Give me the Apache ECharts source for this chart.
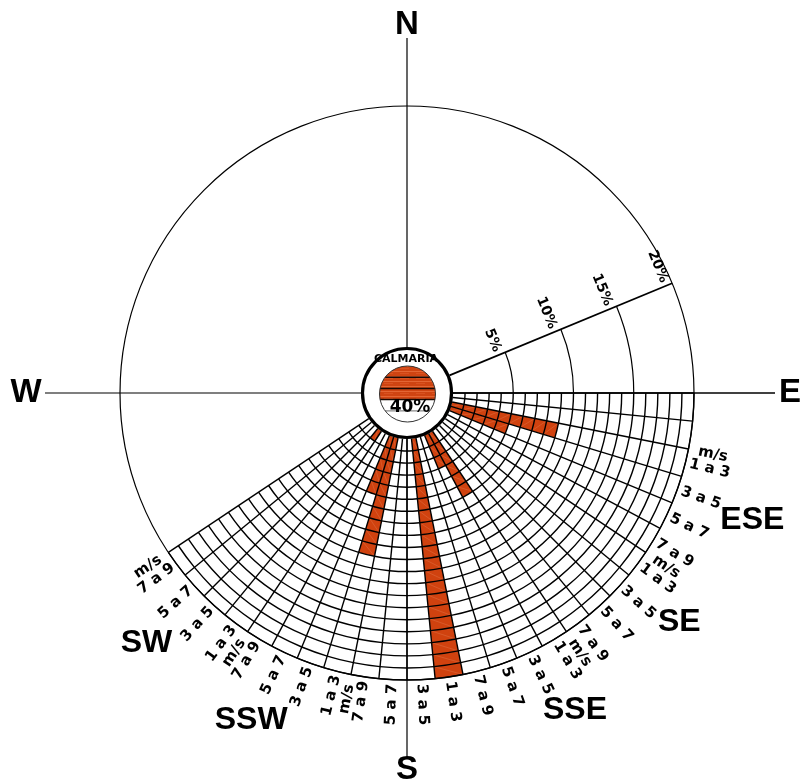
<!DOCTYPE html>
<html>
<head>
<meta charset="utf-8">
<title>Rosa dos ventos</title>
<script src="https://cdn.jsdelivr.net/npm/echarts@6/dist/echarts.min.js"></script>
<style>
  html, body { margin: 0; padding: 0; background: #fff; }
  #chart { width: 801px; height: 782px; }
</style>
</head>
<body>
<div id="chart"></div>
<script>
// ---- data -------------------------------------------------------------
// Directions on the lower half of the rose, with their compass bearings
const directions = ['ESE', 'SE', 'SSE', 'S', 'SSW', 'SW'];
const directionAngles = [112.5, 135, 157.5, 180, 202.5, 225];
// Wind speed classes (m/s)
const speedClasses = ['1 a 3', '3 a 5', '5 a 7', '7 a 9'];
// Frequency (%) of each speed class, one value per direction above
const freq1a3 = [9, 0, 6, 20, 10, 1];
const freq3a5 = [5, 0, 3, 0, 5, 0];
const freq5a7 = [0, 0, 0, 0, 0, 0];
const freq7a9 = [0, 0, 0, 0, 0, 0];
// Calm share (%)
const calmPct = 40;
// Frequency scale ticks (%)
const percentTicks = [5, 10, 15, 20];
// Cardinal points
const cardinals = ['N', 'E', 'S', 'W'];
const cardinalAngles = [0, 90, 180, 270];

// ---- layout -----------------------------------------------------------
const SLOT = 5.625;            // angular width of one speed class
const HALF_SECTOR = 11.25;     // half width of a direction sector
const GRID_FROM = 90;          // gridded sector, compass degrees
const GRID_TO = 236.25;
const MAX_PCT = 20;
const SCALE_ANGLE = 67.5;      // bearing of the percentage scale line
const SPEED_LABEL_GAP = 25;    // px beyond the outer ring
const cardinalLineEnd = { N: 355, E: 368, S: 364, W: 362 };
const cardinalLabelR = { N: 368, E: 383, S: 377, W: 381 };
const dirLabelPos = {          // [radius px, bearing]
  ESE: [368, 110.2], SE: [356, 130.1], SSE: [359, 152.1], SSW: [362, 205.5], SW: [361, 226.2]
};
const BAR_RED = '#d0420f';
const GRID_W = 1.4;
const BIG_FONT = 'bold 32px "Liberation Sans", Arial, sans-serif';
const SMALL_FONT = 'bold 15px "DejaVu Sans", sans-serif';

const freqByClass = [freq1a3, freq3a5, freq5a7, freq7a9];

// one record per non-empty bar: [frequency, start bearing, end bearing]
const barData = [];
directions.forEach((d, i) => {
  speedClasses.forEach((c, j) => {
    const v = freqByClass[j][i];
    if (v > 0) {
      const a0 = directionAngles[i] - HALF_SECTOR + j * SLOT;
      barData.push([v, a0, a0 + SLOT]);
    }
  });
});

// one record per grid column
const gridData = [];
for (let a = GRID_FROM; a < GRID_TO - 1e-6; a += SLOT) gridData.push([0, a]);

function geom(params, api) {
  const cs = params.coordSys, cx = cs.cx, cy = cs.cy;
  const dist = p => Math.hypot(p[0] - cx, p[1] - cy);
  return {
    cx, cy,
    rad: v => dist(api.coord([v, 0])),
    ang: a => { const p = api.coord([MAX_PCT, a]); return Math.atan2(p[1] - cy, p[0] - cx); },
    at: (r, t) => [cx + r * Math.cos(t), cy + r * Math.sin(t)]
  };
}

function line(p, q, w, color) {
  return { type: 'line', shape: { x1: p[0], y1: p[1], x2: q[0], y2: q[1] },
           style: { stroke: color || '#000', lineWidth: w } };
}

function text(str, p, font, rot, align, valign) {
  return { type: 'text', x: p[0], y: p[1], rotation: rot || 0,
           style: { text: str, font: font, fill: '#000', align: align || 'center', verticalAlign: valign || 'middle' } };
}

// text laid along the radius: outward on the right, toward the centre on the left
function radialText(str, p, t, font) {
  const deg = t * 180 / Math.PI;
  const rot = (deg > 90.01 || deg < -90) ? Math.PI - t : -t;
  return text(str, p, font, rot);
}

function stripeCanvas() {
  const c = document.createElement('canvas');
  c.width = 16; c.height = 5;
  const x = c.getContext('2d');
  x.fillStyle = '#cf4412'; x.fillRect(0, 0, 16, 5);
  x.fillStyle = 'rgba(240,125,75,0.6)'; x.fillRect(0, 1, 16, 1);
  x.fillStyle = 'rgba(235,110,60,0.35)'; x.fillRect(0, 3, 9, 1);
  return c;
}
const discPattern = { image: stripeCanvas(), repeat: 'repeat' };

const chart = echarts.init(document.getElementById('chart'), null, { renderer: 'canvas' });

const option = {
  animation: false,
  backgroundColor: '#fff',
  polar: { center: [407, 393], radius: [46, 287] },
  angleAxis: {
    type: 'value', min: 0, max: 360, startAngle: 90, clockwise: true,
    axisLine: { show: false }, axisTick: { show: false }, axisLabel: { show: false }, splitLine: { show: false }
  },
  radiusAxis: {
    type: 'value', min: 0, max: MAX_PCT,
    axisLine: { show: false }, axisTick: { show: false }, axisLabel: { show: false }, splitLine: { show: false }
  },
  series: [
    // frequency bars
    {
      type: 'custom', coordinateSystem: 'polar', clip: false, z: 1, silent: true,
      data: barData,
      renderItem(params, api) {
        const g = geom(params, api);
        const v = api.value(0), a0 = api.value(1), a1 = api.value(2);
        const t0 = g.ang(a0), t1 = g.ang(a1);
        const children = [{
          type: 'sector',
          shape: { cx: g.cx, cy: g.cy, r0: g.rad(0), r: g.rad(v), startAngle: t0, endAngle: t1, clockwise: true },
          style: { fill: BAR_RED }
        }];
        for (let k = 0; k < v; k++) {
          children.push(line(g.at(g.rad(k), t1), g.at(g.rad(k + 1), t0), 0.7, 'rgba(255,215,190,0.22)'));
        }
        return { type: 'group', children };
      }
    },
    // speed / frequency grid
    {
      type: 'custom', coordinateSystem: 'polar', clip: false, z: 2, silent: true,
      data: gridData,
      renderItem(params, api) {
        const g = geom(params, api);
        const a0 = api.value(1), a1 = a0 + SLOT;
        const t0 = g.ang(a0), t1 = g.ang(a1);
        const R0 = g.rad(0), R = g.rad(MAX_PCT);
        const children = [line(g.at(R0, t0), g.at(R, t0), GRID_W)];
        if (a1 >= GRID_TO - 1e-6) children.push(line(g.at(R0, t1), g.at(R, t1), GRID_W));
        for (let k = 1; k <= MAX_PCT; k++) {
          children.push({ type: 'arc',
            shape: { cx: g.cx, cy: g.cy, r: g.rad(k), startAngle: t0, endAngle: t1, clockwise: true },
            style: { stroke: '#000', fill: null, lineWidth: GRID_W } });
        }
        return { type: 'group', children };
      }
    },
    // rose frame, scale, calm disc and labels
    {
      type: 'custom', coordinateSystem: 'polar', clip: false, z: 3, silent: true,
      data: [[0, 0]],
      renderItem(params, api) {
        const g = geom(params, api);
        const R0 = g.rad(0), R = g.rad(MAX_PCT);
        const ch = [];
        ch.push({ type: 'circle', shape: { cx: g.cx, cy: g.cy, r: R }, style: { fill: null, stroke: '#000', lineWidth: 1.2 } });

        cardinals.forEach((c, i) => {
          const t = g.ang(cardinalAngles[i]);
          ch.push(line(g.at(R0, t), g.at(cardinalLineEnd[c], t), c === 'E' ? 1.6 : 1.2));
          ch.push(text(c, g.at(cardinalLabelR[c], t), 'bold 33px "Liberation Sans", Arial, sans-serif'));
        });

        // percentage scale
        const ts = g.ang(SCALE_ANGLE), te = g.ang(90);
        ch.push(line(g.at(R0, ts), g.at(R, ts), 1.7));
        const tt = ts + Math.PI / 2;
        percentTicks.forEach(p => {
          const r = g.rad(p);
          if (p < MAX_PCT) {
            ch.push({ type: 'arc', shape: { cx: g.cx, cy: g.cy, r: r, startAngle: ts, endAngle: te, clockwise: true },
                      style: { stroke: '#000', fill: null, lineWidth: 1.2 } });
          }
          const tick = g.at(r, ts);
          const pos = [tick[0] - 4 * Math.cos(tt), tick[1] - 4 * Math.sin(tt)];
          ch.push(text(p + '%', pos, 'bold 14px "DejaVu Sans", sans-serif', -tt, 'right', 'top'));
        });

        // speed class labels and direction names
        const rl = R + SPEED_LABEL_GAP;
        directions.forEach((d, i) => {
          const start = directionAngles[i] - HALF_SECTOR;
          speedClasses.forEach((c, j) => {
            const t = g.ang(start + (j + 0.5) * SLOT);
            ch.push(radialText(c, g.at(rl, t), t, SMALL_FONT));
          });
          const unitAt = directionAngles[i] < 180 ? start + 0.5 * SLOT - 2.7 : start + 3.5 * SLOT + 2.7;
          const tu = g.ang(unitAt);
          ch.push(radialText('m/s', g.at(rl, tu), tu, SMALL_FONT));
          if (dirLabelPos[d]) {
            const lp = dirLabelPos[d];
            ch.push(text(d, g.at(lp[0], g.ang(lp[1])), BIG_FONT));
          }
        });

        // calm hub
        ch.push({ type: 'circle', shape: { cx: g.cx, cy: g.cy, r: R0 - 1.5 },
                  style: { fill: '#fff', stroke: '#000', lineWidth: 3.2 } });
        const dr = 28, dcx = g.cx + 0.5, dcy = g.cy + 1;
        ch.push({ type: 'circle', shape: { cx: dcx, cy: dcy, r: dr }, style: { fill: '#fff' } });
        // wind share fills the disc from the top, calm share stays white at the bottom
        const chordY = dcy - dr + 2 * dr * (1 - calmPct / 100);
        const d = chordY - dcy;
        const th1 = Math.atan2(d, Math.sqrt(dr * dr - d * d));
        const th2 = Math.PI - th1;
        const pts = [];
        for (let s = 0; s <= 60; s++) {
          const th = th2 + (th1 + 2 * Math.PI - th2) * s / 60;
          pts.push([dcx + dr * Math.cos(th), dcy + dr * Math.sin(th)]);
        }
        ch.push({ type: 'polygon', shape: { points: pts }, style: { fill: discPattern } });
        for (let k = 1; k < 5; k++) {
          const y = dcy - dr + k * 2 * dr / 5;
          const hw = Math.sqrt(Math.max(0, dr * dr - (y - dcy) * (y - dcy)));
          const inWhite = y > chordY + 0.5;
          ch.push(line([dcx - hw, y], [dcx + hw, y], inWhite ? 1.2 : 1.5, inWhite ? '#8a8a8a' : '#1a0802'));
        }
        ch.push({ type: 'circle', shape: { cx: dcx, cy: dcy, r: dr }, style: { fill: null, stroke: '#333', lineWidth: 1 } });
        ch.push(text('CALMARIA', [g.cx - 1, g.cy - 34], 'bold 11px "DejaVu Sans", sans-serif'));
        ch.push(text(calmPct + '%', [g.cx + 3, g.cy + 15], 'bold 17px "DejaVu Sans", sans-serif'));

        return { type: 'group', children: ch };
      }
    }
  ]
};

chart.setOption(option);
</script>
</body>
</html>
